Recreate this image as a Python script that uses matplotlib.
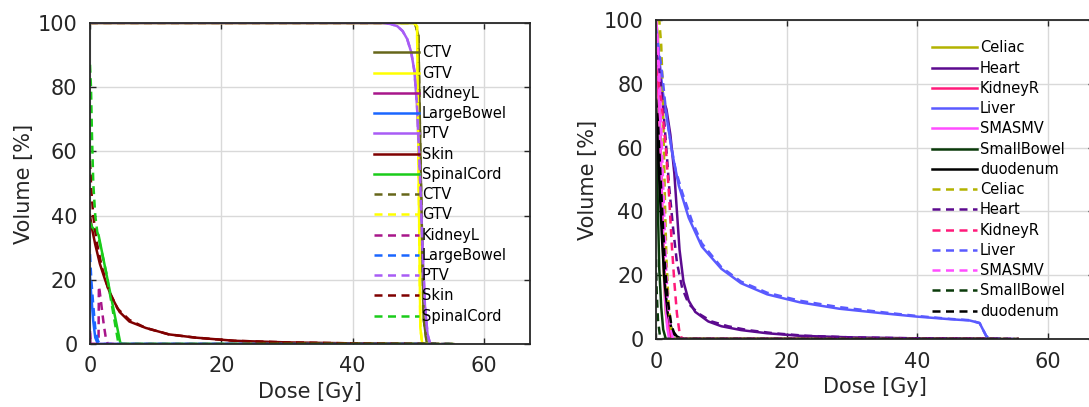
"""Two DVH panels: volume [%] vs dose [Gy], solid vs dashed plans."""
import matplotlib
matplotlib.use("Agg")
import matplotlib.pyplot as plt

# ---------------------------------------------------------------------------
# Data
# ---------------------------------------------------------------------------
LEFT_NAMES = ["CTV", "GTV", "KidneyL", "LargeBowel", "PTV", "Skin", "SpinalCord"]
LEFT_COLORS = ["#66661a", "#ffff00", "#a8168a", "#1a66ff", "#a85cf5", "#7f0000", "#1acc1a"]

ctv_dose = [0, 49.5, 50.0, 50.3, 50.8, 51.3, 52.5]
ctv_vol = [100, 100, 96, 60, 8, 0, 0]
ctv_dose_d = [0, 49.5, 50.0, 50.3, 50.8, 51.3, 55.5]
ctv_vol_d = [100, 100, 96, 60, 8, 0, 0]

gtv_dose = [0, 49.3, 49.8, 50.0, 50.3, 50.6, 52.5]
gtv_vol = [100, 100, 99, 60, 5, 0, 0]
gtv_dose_d = [0, 49.3, 49.8, 50.0, 50.3, 50.6, 55.5]
gtv_vol_d = [100, 100, 99, 60, 5, 0, 0]

kidl_dose = [0, 0.05, 52.5]
kidl_vol = [3, 0, 0]
kidl_dose_d = [0, 0.1, 1.3, 1.35, 1.5, 1.8, 2.1, 2.4, 2.7, 55.5]
kidl_vol_d = [4, 0, 0, 18, 16, 11, 6, 2, 0, 0]

lbow_dose = [0, 0.2, 0.5, 0.8, 1.2, 52.5]
lbow_vol = [21, 15, 7, 2, 0, 0]
lbow_dose_d = [0, 0.2, 0.5, 0.8, 1.2, 1.6, 55.5]
lbow_vol_d = [28, 20, 12, 5, 1, 0, 0]

ptv_dose = [0, 44.5, 45.8, 46.8, 47.6, 48.3, 48.9, 49.4, 49.8, 50.2, 50.6, 51.0, 51.4, 51.8, 52.5]
ptv_vol = [100, 100, 99.7, 99, 97.5, 95, 91, 85, 74, 55, 32, 12, 3, 0, 0]
ptv_dose_d = [0, 44.5, 45.8, 46.8, 47.6, 48.3, 48.9, 49.4, 49.8, 50.2, 50.6, 51.0, 51.4, 51.8, 55.5]
ptv_vol_d = [100, 100, 99.7, 99, 97.5, 95, 91, 85, 74, 55, 32, 12, 3, 0, 0]

skin_dose = [0, 0.3, 0.8, 1.5, 2.3, 3.2, 4.5, 6, 8.5, 12, 16, 22, 30, 40, 52.5]
skin_vol = [40, 36, 31, 25, 20, 15, 10, 7, 5, 3, 2, 1, 0.5, 0.2, 0]
skin_dose_d = [0, 0.2, 0.5, 1.0, 1.8, 2.8, 4.2, 6, 8.5, 12, 16, 22, 30, 40, 55.5]
skin_vol_d = [57, 48, 40, 32, 24, 17, 11, 7.5, 5, 3, 2, 1, 0.5, 0.2, 0]

cord_dose = [0, 0.3, 1.3, 4.6, 4.9, 52.5]
cord_vol = [38, 36.5, 34, 0.5, 0, 0]
cord_dose_d = [0, 0.15, 0.3, 0.5, 0.8, 1.1, 2.5, 4.3, 4.6, 55.5]
cord_vol_d = [87, 80, 65, 50, 40, 35, 22, 0.5, 0, 0]

LEFT_SOLID = [(ctv_dose, ctv_vol), (gtv_dose, gtv_vol), (kidl_dose, kidl_vol),
              (lbow_dose, lbow_vol), (ptv_dose, ptv_vol), (skin_dose, skin_vol),
              (cord_dose, cord_vol)]
LEFT_DASHED = [(ctv_dose_d, ctv_vol_d), (gtv_dose_d, gtv_vol_d), (kidl_dose_d, kidl_vol_d),
               (lbow_dose_d, lbow_vol_d), (ptv_dose_d, ptv_vol_d), (skin_dose_d, skin_vol_d),
               (cord_dose_d, cord_vol_d)]

RIGHT_NAMES = ["Celiac", "Heart", "KidneyR", "Liver", "SMASMV", "SmallBowel", "duodenum"]
RIGHT_COLORS = ["#b3b300", "#5c0a8f", "#ff1a7a", "#5a5aff", "#ff4dff", "#0a3a0a", "#000000"]

cel_dose = [0, 0.3, 0.6, 0.9, 1.2, 1.5, 1.9, 2.3, 52.5]
cel_vol = [100, 95, 70, 40, 20, 8, 2, 0, 0]
cel_dose_d = [0, 0.5, 0.8, 1.0, 1.2, 1.4, 1.6, 1.9, 2.3, 2.7, 55.5]
cel_vol_d = [100, 100, 92, 80, 60, 40, 25, 12, 3, 0, 0]

heart_dose = [0, 0.5, 1.0, 1.6, 2.2, 2.8, 3.2, 3.6, 4.2, 5, 6, 8, 10, 13, 17, 22, 30, 40, 50, 52.5]
heart_vol = [80, 78, 76, 72, 64, 52, 40, 28, 18, 12, 8.5, 5.5, 4, 2.8, 1.8, 1.0, 0.5, 0.2, 0, 0]
heart_dose_d = [0, 0.5, 1.0, 1.5, 2.0, 2.6, 3.2, 4.0, 5.0, 6.5, 8.5, 11, 14, 18, 23, 30, 40, 50, 55.5]
heart_vol_d = [90, 85, 75, 62, 48, 35, 24, 16, 11, 8, 5.5, 4, 2.8, 1.8, 1.0, 0.5, 0.2, 0, 0]

kidr_dose = [0, 0.3, 0.6, 0.9, 1.2, 1.5, 1.8, 2.2, 2.6, 52.5]
kidr_vol = [88, 80, 65, 45, 25, 12, 5, 1, 0, 0]
kidr_dose_d = [0, 0.8, 1.5, 2.0, 2.4, 2.8, 3.2, 3.6, 4.0, 55.5]
kidr_vol_d = [85, 75, 60, 45, 30, 18, 8, 2, 0, 0]

liver_dose = [0, 0.5, 1.0, 1.6, 2.5, 3.5, 5, 7, 10, 13, 17, 22, 28, 35, 40, 45, 48,
              49.5, 50, 50.5, 51, 52.5]
liver_vol = [97, 88, 78, 70, 58, 48, 38, 29, 22, 17.5, 14, 11.5, 9.5, 8, 7, 6.2, 5.8,
             5, 3, 1, 0, 0]
liver_dose_d = [0, 0.5, 1.0, 1.5, 2.2, 3, 4, 5.5, 7, 10, 13, 17, 22, 28, 35, 40, 45, 48,
                49.5, 50, 50.5, 51, 55.5]
liver_vol_d = [97, 90, 82, 72, 62, 53, 46, 37, 30, 22.5, 18, 14.5, 12, 10, 8.3, 7.2, 6.3,
               5.9, 5, 3, 1, 0, 0]

sma_dose = [0, 0.2, 0.5, 0.8, 1.1, 1.4, 1.7, 2.0, 52.5]
sma_vol = [100, 95, 75, 50, 28, 12, 4, 0, 0]
sma_dose_d = [0, 0.3, 0.6, 0.9, 1.2, 1.5, 1.8, 2.2, 2.6, 55.5]
sma_vol_d = [100, 92, 78, 60, 42, 25, 12, 4, 0, 0]

sbow_dose = [0, 0.1, 0.3, 0.5, 0.8, 1.1, 1.5, 52.5]
sbow_vol = [75, 60, 40, 22, 10, 3, 0, 0]
sbow_dose_d = [0, 0.1, 0.3, 0.6, 0.9, 55.5]
sbow_vol_d = [25, 15, 6, 1, 0, 0]

duo_dose = [0, 0.2, 0.5, 0.9, 1.3, 1.8, 2.4, 3.2, 4.0, 52.5]
duo_vol = [72, 65, 50, 32, 18, 8, 3, 0.8, 0, 0]
duo_dose_d = [0, 0.3, 0.6, 1.0, 1.4, 1.8, 2.3, 2.8, 3.3, 55.5]
duo_vol_d = [75, 68, 55, 38, 22, 12, 5, 1.5, 0, 0]

RIGHT_SOLID = [(cel_dose, cel_vol), (heart_dose, heart_vol), (kidr_dose, kidr_vol),
               (liver_dose, liver_vol), (sma_dose, sma_vol), (sbow_dose, sbow_vol),
               (duo_dose, duo_vol)]
RIGHT_DASHED = [(cel_dose_d, cel_vol_d), (heart_dose_d, heart_vol_d), (kidr_dose_d, kidr_vol_d),
                (liver_dose_d, liver_vol_d), (sma_dose_d, sma_vol_d), (sbow_dose_d, sbow_vol_d),
                (duo_dose_d, duo_vol_d)]

X_TICKS = [0, 20, 40, 60]
Y_TICKS = [0, 20, 40, 60, 80, 100]

# ---------------------------------------------------------------------------
# Style
# ---------------------------------------------------------------------------
TXT = "#262626"
LW = 1.8
DASH = (0, (3.2, 2.2))
TICK_FS = 15
LEG_FS = 10.5

plt.rcParams.update({"font.family": "DejaVu Sans"})


def draw_panel(ax, names, colors, solid, dashed, leg_anchor, ylabelpad):
    for name, c, (x, y) in zip(names, colors, solid):
        ax.plot(x, y, color=c, lw=LW, label=name, solid_joinstyle="round")
    for name, c, (x, y) in zip(names, colors, dashed):
        ax.plot(x, y, color=c, lw=LW, ls=DASH, label=name)
    ax.set_xlim(0, 67)
    ax.set_ylim(0, 100)
    ax.set_xticks(X_TICKS)
    ax.set_yticks(Y_TICKS)
    ax.grid(True, color="#d9d9d9", lw=1.0)
    ax.set_axisbelow(True)
    ax.tick_params(direction="in", top=True, right=True, length=4, width=1.0,
                   colors=TXT, labelsize=TICK_FS)
    ax.tick_params(axis="x", pad=9)
    ax.tick_params(axis="y", pad=9)
    for sp in ax.spines.values():
        sp.set_color(TXT)
        sp.set_linewidth(1.3)
    ax.set_xlabel("Dose [Gy]", fontsize=TICK_FS, color=TXT, labelpad=4)
    ax.set_ylabel("Volume [%]", fontsize=TICK_FS, color=TXT, labelpad=ylabelpad)
    leg = ax.legend(loc="upper left", bbox_to_anchor=leg_anchor, frameon=False,
                    fontsize=LEG_FS, handlelength=3.1, handletextpad=0.2,
                    labelspacing=0.36, borderpad=0, borderaxespad=0)
    for t in leg.get_texts():
        t.set_color("black")


fig = plt.figure(figsize=(10.89, 4.07), dpi=100)
ax1 = fig.add_axes([90 / 1089, 63 / 407, 440 / 1089, 321 / 407])
ax2 = fig.add_axes([656 / 1089, 68 / 407, 438 / 1089, 319 / 407])

draw_panel(ax1, LEFT_NAMES, LEFT_COLORS, LEFT_SOLID, LEFT_DASHED, (0.645, 0.93), 3)
draw_panel(ax2, RIGHT_NAMES, RIGHT_COLORS, RIGHT_SOLID, RIGHT_DASHED, (0.63, 0.936), 4)

fig.savefig("out.png", dpi=100)
